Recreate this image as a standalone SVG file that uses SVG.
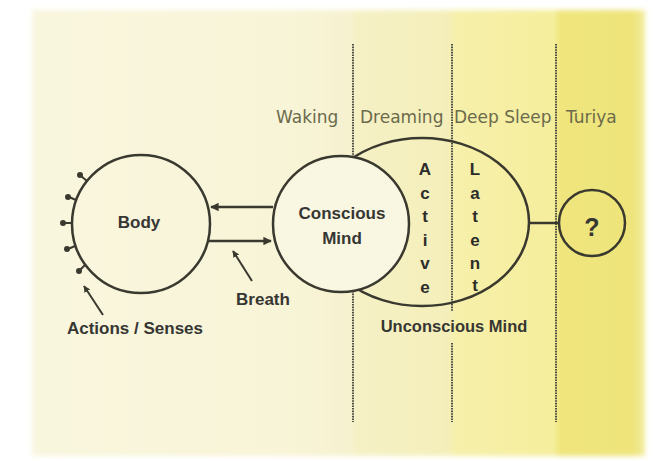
<svg xmlns="http://www.w3.org/2000/svg" width="659" height="461" viewBox="0 0 659 461">
  <style>
    .ring { fill: none; stroke: #3a392f; stroke-width: 2.5; }
    .ring-filled { fill: #f9f6e1; stroke: #3a392f; stroke-width: 2.5; }
    .divider { stroke: #4f4e42; stroke-width: 2; stroke-dasharray: 1.6 1; fill: none; }
    .wire { stroke: #3a392f; stroke-width: 2.5; fill: none; }
    .pointer { stroke: #3a392f; stroke-width: 2; fill: none; }
    .state { font-family: "DejaVu Sans", Verdana, sans-serif; font-size: 17px; fill: #6b6a4c; }
    .label { font-family: "Liberation Sans", Arial, sans-serif; font-size: 17px; font-weight: bold; fill: #363633; text-anchor: middle; }
    .label-sm { font-size: 16.5px; }
    .query { font-size: 25px; }
    .stack { font-family: "Liberation Sans", Arial, sans-serif; font-size: 17px; font-weight: bold; fill: #2c2c28; text-anchor: middle; }
  </style>
  <defs>
    <marker id="head" viewBox="0 0 10 10" refX="9" refY="5" markerWidth="3.4" markerHeight="3.4" orient="auto" markerUnits="strokeWidth">
      <path d="M0,0 L10,5 L0,10 z" fill="#3a392f"/>
    </marker>
    <linearGradient id="wakeBand" x1="0" x2="1" y1="0" y2="0">
      <stop offset="0" stop-color="#f9f6df"/>
      <stop offset="0.8" stop-color="#f8f4d7"/>
      <stop offset="1" stop-color="#f6f2cf"/>
    </linearGradient>
    <linearGradient id="dreamBand" x1="0" x2="1" y1="0" y2="0">
      <stop offset="0" stop-color="#f5f1c6"/>
      <stop offset="1" stop-color="#f4efb9"/>
    </linearGradient>
    <linearGradient id="sleepBand" x1="0" x2="1" y1="0" y2="0">
      <stop offset="0" stop-color="#f6f0ab"/>
      <stop offset="1" stop-color="#f5ee9c"/>
    </linearGradient>
    <linearGradient id="turiyaBand" x1="0" x2="1" y1="0" y2="0">
      <stop offset="0" stop-color="#efe57c"/>
      <stop offset="0.85" stop-color="#eee47a"/>
      <stop offset="1" stop-color="#f3ec9e"/>
    </linearGradient>
    <filter id="soft" x="-5%" y="-5%" width="110%" height="110%">
      <feGaussianBlur stdDeviation="2.5"/>
    </filter>
  </defs>

  <rect width="659" height="461" fill="#ffffff"/>

  <!-- state bands -->
  <g id="bands" filter="url(#soft)">
    <rect x="32" y="10" width="322" height="446" fill="url(#wakeBand)"/>
    <rect x="353" y="10" width="100" height="446" fill="url(#dreamBand)"/>
    <rect x="452" y="10" width="106" height="446" fill="url(#sleepBand)"/>
    <rect x="557" y="10" width="88" height="446" fill="url(#turiyaBand)"/>
  </g>

  <!-- band dividers -->
  <g id="dividers">
    <line class="divider" x1="353" y1="44" x2="353" y2="422"/>
    <line class="divider" x1="452" y1="44" x2="452" y2="311"/>
    <line class="divider" x1="452" y1="343" x2="452" y2="422"/>
    <line class="divider" x1="556" y1="44" x2="556" y2="422"/>
  </g>

  <!-- state names -->
  <g id="states">
    <text class="state" x="276" y="123">Waking</text>
    <text class="state" x="360" y="123">Dreaming</text>
    <text class="state" x="454" y="123">Deep Sleep</text>
    <text class="state" x="566" y="123">Turiya</text>
  </g>

  <g id="unconscious">
    <ellipse class="ring" cx="422" cy="222" rx="107" ry="84"/>
    <text class="stack" x="425"><tspan x="425" y="175">A</tspan><tspan x="425" y="198.5">c</tspan><tspan x="425" y="222">t</tspan><tspan x="425" y="245.5">i</tspan><tspan x="425" y="269">v</tspan><tspan x="425" y="292.5">e</tspan></text>
    <text class="stack" x="475"><tspan x="475" y="175">L</tspan><tspan x="475" y="198.5">a</tspan><tspan x="475" y="222">t</tspan><tspan x="475" y="245.5">e</tspan><tspan x="475" y="269">n</tspan><tspan x="475" y="291">t</tspan></text>
    <text class="label label-sm" x="454" y="332">Unconscious Mind</text>
  </g>

  <g id="conscious">
    <circle class="ring-filled" cx="341" cy="224" r="68"/>
    <text class="label" x="342" y="219">Conscious</text>
    <text class="label" x="342" y="244">Mind</text>
  </g>

  <g id="body">
    <circle class="ring" cx="141" cy="224" r="69"/>
    <text class="label" x="139" y="228">Body</text>
    <!-- sense organs on the rim -->
    <g stroke="#3a392f" stroke-width="2" fill="#3a392f">
      <line x1="87" y1="181" x2="81" y2="176"/><circle cx="80" cy="175" r="2"/>
      <line x1="76" y1="200" x2="69" y2="197"/><circle cx="68" cy="197" r="2"/>
      <line x1="72" y1="223" x2="64" y2="223"/><circle cx="63" cy="223" r="2"/>
      <line x1="75" y1="246" x2="68" y2="249"/><circle cx="67" cy="249" r="2"/>
      <line x1="85" y1="265" x2="80" y2="270"/><circle cx="79" cy="271" r="2"/>
    </g>
  </g>

  <g id="turiya">
    <circle class="ring" cx="592" cy="223" r="33"/>
    <text class="label query" x="592" y="236">?</text>
  </g>

  <g id="captions">
    <text class="label" x="135" y="334">Actions / Senses</text>
    <text class="label" x="263" y="305">Breath</text>
  </g>

  <g id="connectors">
    <line class="wire" x1="273" y1="207" x2="211" y2="207" marker-end="url(#head)"/>
    <line class="wire" x1="209" y1="241" x2="271" y2="241" marker-end="url(#head)"/>
    <line class="wire" x1="529" y1="223" x2="559" y2="223"/>
    <line class="pointer" x1="252" y1="281" x2="233" y2="251" marker-end="url(#head)"/>
    <line class="pointer" x1="103" y1="315" x2="84" y2="286" marker-end="url(#head)"/>
  </g>
</svg>
